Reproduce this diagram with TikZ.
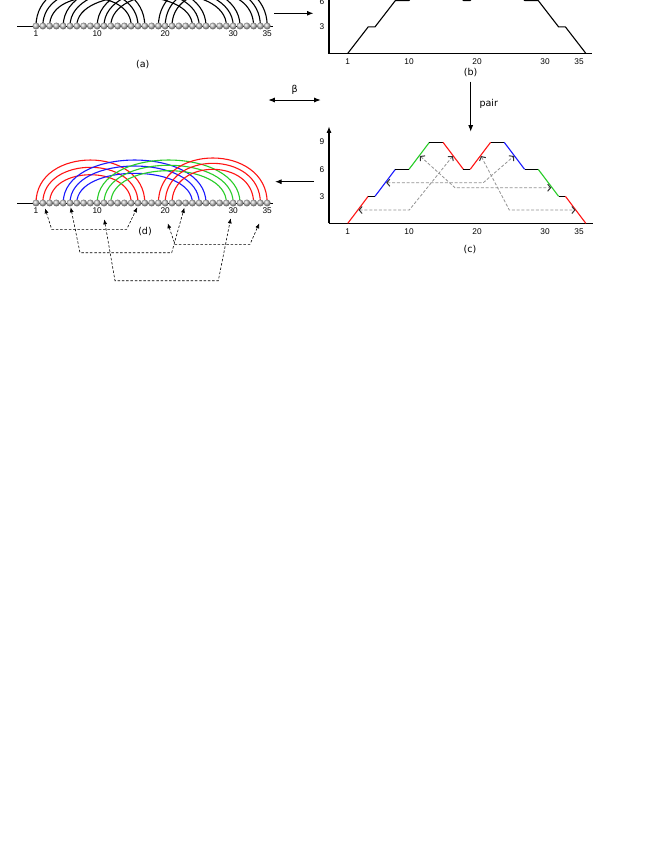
\documentclass[tikz,border=0pt]{standalone}
\usepackage{fontspec}
\setmainfont{Liberation Sans}
\newfontfamily\lblfont{DejaVu Sans}
\usetikzlibrary{arrows.meta}
\definecolor{cred}{RGB}{255,20,20}
\definecolor{cblue}{RGB}{25,25,255}
\definecolor{cgreen}{RGB}{40,205,40}
\begin{document}
\begin{tikzpicture}[x=1pt,y=1pt,
  bead/.style={circle,inner sep=0pt,minimum size=6.9pt,shade,ball color=gray!45},
  num/.style={inner sep=0pt,font=\fontsize{8.3}{10}\selectfont},
  lbl/.style={inner sep=0pt,font=\lblfont\fontsize{9.5}{11}\selectfont},
  backbone/.style={line width=1pt},
  arcline/.style={line width=1.1pt},
  mainarrow/.style={line width=1pt,-{Latex[length=6.5pt,width=5pt]}},
  dblarrow/.style={line width=1pt,{Latex[length=6.5pt,width=5pt]}-{Latex[length=6.5pt,width=5pt]}},
  axisline/.style={line width=1.2pt},
  walkline/.style={line width=1.1pt},
  cdash/.style={draw=gray!85,line width=0.8pt,dash pattern=on 3pt off 1.8pt,
     >={Straight Barb[length=3pt,width=7pt,line width=1pt,color=black!80]},<->},
  ddash/.style={draw=black,line width=0.6pt,dash pattern=on 2.5pt off 1.8pt,
     >={Latex[length=5pt,width=4pt]},<->}
]
\path[use as bounding box] (0,0) rectangle (654,-846);
\clip (0,0) rectangle (654,-846);
\fill[white] (0,0) rectangle (654,-846);

% ---------- bead coordinates ----------
\foreach \i in {1,...,35}{
  \coordinate (a\i) at ({36+(\i-1)*6.8},-26);
  \coordinate (d\i) at ({36+(\i-1)*6.8},-203);
}
\coordinate (aL) at (17,-26);  \coordinate (aR) at (273,-26);
\coordinate (dL) at (17,-203); \coordinate (dR) at (273,-203);
\draw[backbone] (aL) -- (aR);
\draw[backbone] (dL) -- (dR);

% ---------- arcs (a): black ----------
\foreach \p/\q/\h in {1/17/57.3,2/16/47.6,3/15/37.7,5/26/57.3,6/25/49.3,7/24/39.6,
                      10/31/57.3,11/30/50.3,12/29/43.1,19/35/60,20/34/52.9,21/33/44.9}{
  \draw[arcline,black] (a\p) to[out=90,in=90,distance=\h] (a\q);
}
% ---------- arcs (d): coloured ----------
\foreach \p/\q/\h/\c in {1/17/57.3/cred,2/16/47.6/cred,3/15/37.7/cred,
                         5/26/57.3/cblue,6/25/49.3/cblue,7/24/39.6/cblue,
                         10/31/57.3/cgreen,11/30/50.3/cgreen,12/29/43.1/cgreen,
                         19/35/60/cred,20/34/52.9/cred,21/33/44.9/cred}{
  \draw[arcline,\c] (d\p) to[out=90,in=90,distance=\h] (d\q);
}
% ---------- beads ----------
\foreach \i in {1,...,35}{
  \node[bead] (ab\i) at (a\i) {};
  \node[bead] (db\i) at (d\i) {};
}
% bead numbers
\foreach \i/\t in {1/1,10/10,20/20,30/30,35/35}{
  \node[num] (an\i) at ({36+(\i-1)*6.8},-33.6) {\t};
  \node[num] (dn\i) at ({36+(\i-1)*6.8},-210.3) {\t};
}
\node[lbl] (la) at (142.7,-65) {(a)};
\node[lbl] (ld) at (145,-232) {(d)};

% ---------- panel (b) ----------
\coordinate (bO) at (329,-53.3);
\coordinate (bT) at (329,10);
\coordinate (bX) at (591.7,-53.3);
\draw[axisline] (bT) -- (bO) -- (bX);
\draw[walkline,line join=round]
  (347.8,-53.3) -- (368.2,-26.9) -- (375.0,-26.9) -- (395.4,-0.5) -- (409.0,-0.5)
  -- (429.4,25.9) -- (443.0,25.9) -- (463.4,-0.5) -- (470.2,-0.5) -- (490.6,25.9)
  -- (504.2,25.9) -- (524.6,-0.5) -- (538.2,-0.5) -- (558.6,-26.9) -- (565.4,-26.9)
  -- (585.8,-53.3);
\node[num] (b3) at (322,-26.7) {3};
\node[num] (b6) at (322,-1.4) {6};
\foreach \x/\t in {347.8/1,409/10,477/20,545/30,579/35}{
  \node[num] at (\x,-61.5) {\t};
}
\node[lbl] (lb) at (470.7,-72.6) {(b)};

% ---------- panel (c) ----------
\coordinate (cO) at (329,-223.3);
\coordinate (cT) at (329,-126.3);
\coordinate (cX) at (592.7,-223.3);
\draw[axisline] (cO) -- (cX);
\draw[axisline,-{Latex[length=6.5pt,width=5pt]}] (cO) -- (cT);
\draw[walkline,cred]   (347.8,-223.3) -- (368.2,-196.3);
\draw[walkline,black]  (368.2,-196.3) -- (375.0,-196.3);
\draw[walkline,cblue]  (375.0,-196.3) -- (395.4,-169.3);
\draw[walkline,black]  (395.4,-169.3) -- (409.0,-169.3);
\draw[walkline,cgreen] (409.0,-169.3) -- (429.4,-142.3);
\draw[walkline,black]  (429.4,-142.3) -- (443.0,-142.3);
\draw[walkline,cred]   (443.0,-142.3) -- (463.4,-169.3);
\draw[walkline,black]  (463.4,-169.3) -- (470.2,-169.3);
\draw[walkline,cred]   (470.2,-169.3) -- (490.6,-142.3);
\draw[walkline,black]  (490.6,-142.3) -- (504.2,-142.3);
\draw[walkline,cblue]  (504.2,-142.3) -- (524.6,-169.3);
\draw[walkline,black]  (524.6,-169.3) -- (538.2,-169.3);
\draw[walkline,cgreen] (538.2,-169.3) -- (558.6,-196.3);
\draw[walkline,black]  (558.6,-196.3) -- (565.4,-196.3);
\draw[walkline,cred]   (565.4,-196.3) -- (585.8,-223.3);
\node[num] (c3) at (322,-196.7) {3};
\node[num] (c6) at (322,-169.3) {6};
\node[num] (c9) at (322,-142) {9};
\foreach \x/\t in {347.8/1,409/10,477/20,545/30,579/35}{
  \node[num] at (\x,-231.2) {\t};
}
\node[lbl] (lc) at (470,-250) {(c)};

% dashed pairings in (c)
\coordinate (p1a) at (358.5,-210);   \coordinate (p1b) at (409.3,-210);   \coordinate (p1c) at (452.8,-156);
\coordinate (p2a) at (386.2,-182.7); \coordinate (p2b) at (483.3,-182.7); \coordinate (p2c) at (514,-156);
\coordinate (p3a) at (420,-156);     \coordinate (p3b) at (455,-187.7);   \coordinate (p3c) at (551.3,-187.7);
\coordinate (p4a) at (481,-156);     \coordinate (p4b) at (509.3,-210);   \coordinate (p4c) at (575.5,-210);
\draw[cdash] (p1a) -- (p1b) -- (p1c);
\draw[cdash] (p2a) -- (p2b) -- (p2c);
\draw[cdash] (p3a) -- (p3b) -- (p3c);
\draw[cdash] (p4a) -- (p4b) -- (p4c);

% dashed pairings in (d)
\coordinate (qA1) at (45,-208.3);   \coordinate (qA2) at (51.7,-229.3);  \coordinate (qA3) at (126.7,-229.3); \coordinate (qA4) at (137.3,-207.3);
\coordinate (qB1) at (70.7,-207.3); \coordinate (qB2) at (80,-252.7);    \coordinate (qB3) at (171.7,-252.7); \coordinate (qB4) at (184.3,-207.8);
\coordinate (qC1) at (104.3,-219.3);\coordinate (qC2) at (115,-280.7);   \coordinate (qC3) at (218.3,-280.7); \coordinate (qC4) at (230.7,-218.3);
\coordinate (qD1) at (167.7,-223.3);\coordinate (qD2) at (175,-244.3);   \coordinate (qD3) at (250,-244.3);   \coordinate (qD4) at (259.3,-223.3);
\draw[ddash] (qA1) -- (qA2) -- (qA3) -- (qA4);
\draw[ddash] (qB1) -- (qB2) -- (qB3) -- (qB4);
\draw[ddash] (qC1) -- (qC2) -- (qC3) -- (qC4);
\draw[ddash] (qD1) -- (qD2) -- (qD3) -- (qD4);

% ---------- arrows between panels ----------
\coordinate (ab-s) at (274,-13.3);  \coordinate (ab-e) at (313.5,-13.3);
\draw[mainarrow] (ab-s) -- (ab-e);
\coordinate (bc-s) at (470.7,-81.7); \coordinate (bc-e) at (470.7,-131.7);
\draw[mainarrow] (bc-s) -- (bc-e);
\node[lbl] (pair) at (488.8,-104.3) {pair};
\coordinate (cd-s) at (314,-181.7); \coordinate (cd-e) at (275,-181.7);
\draw[mainarrow] (cd-s) -- (cd-e);
\coordinate (be-l) at (268.3,-100); \coordinate (be-r) at (320.7,-100);
\draw[dblarrow] (be-l) -- (be-r);
\node[lbl] (beta) at (294.7,-90) {β};
\end{tikzpicture}
\end{document}
